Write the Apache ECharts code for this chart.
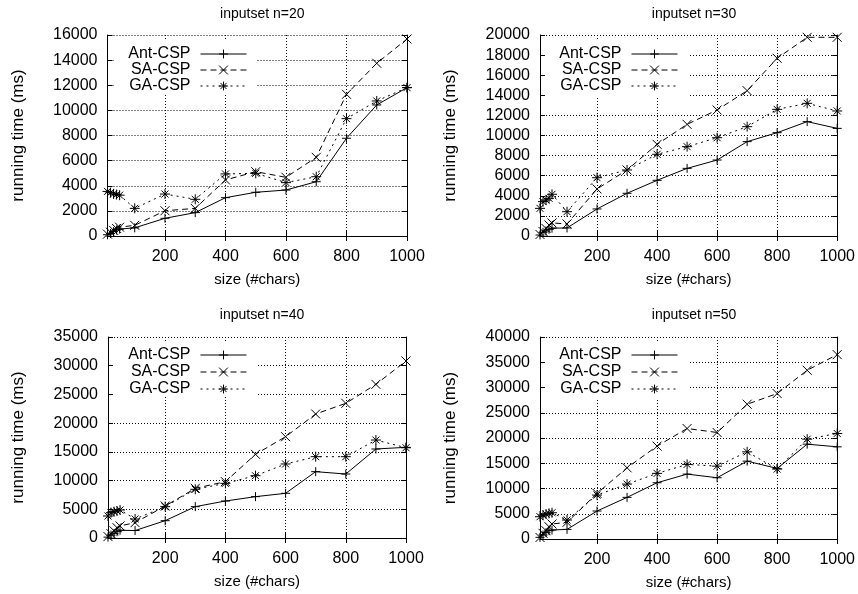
<!DOCTYPE html>
<html>
<head>
<meta charset="utf-8">
<script src="https://cdn.jsdelivr.net/npm/echarts@6/dist/echarts.min.js"></script>
<style>
html,body{margin:0;padding:0;background:#fff;}
#chart{width:858px;height:594px;}
</style>
</head>
<body>
<div id="chart"></div>
<script>
// ---- data ----
const xValues = [10, 20, 30, 40, 50, 100, 200, 300, 400, 500, 600, 700, 800, 900, 1000];
const xTicks = [200, 400, 600, 800, 1000];
const seriesNames = ['Ant-CSP', 'SA-CSP', 'GA-CSP'];
const panelTitles = ['inputset n=20', 'inputset n=30', 'inputset n=40', 'inputset n=50'];
const yMaxes = [16000, 20000, 35000, 40000];
const yIntervals = [2000, 2000, 5000, 5000];

const ant20 = [100, 200, 350, 480, 550, 650, 1410, 1860, 3050, 3480, 3660, 4320, 7780, 10430, 11810];
const sa20  = [150, 300, 450, 600, 700, 850, 2010, 2200, 4460, 5120, 4670, 6260, 11280, 13750, 15680];
const ga20  = [3550, 3450, 3350, 3300, 3250, 2200, 3340, 2920, 4940, 4990, 4250, 4720, 9340, 10750, 11810];

const ant30 = [100, 370, 500, 670, 780, 800, 2690, 4250, 5540, 6730, 7560, 9390, 10280, 11380, 10710];
const sa30  = [150, 450, 750, 1100, 1300, 1200, 4680, 6570, 9120, 11110, 12540, 14460, 17680, 19770, 19770];
const ga30  = [2750, 3420, 3580, 3750, 4150, 2420, 5800, 6570, 8130, 8890, 9780, 10880, 12600, 13200, 12440];

const ant40 = [150, 500, 800, 1100, 1350, 1300, 3020, 5460, 6440, 7200, 7780, 11550, 11140, 15500, 15790];
const sa40  = [250, 750, 1250, 1800, 2100, 2670, 5570, 8650, 9810, 14570, 17640, 21590, 23450, 26760, 30820];
const ga40  = [3830, 4410, 4580, 4700, 4880, 3310, 5460, 8480, 9520, 10850, 12890, 14160, 14160, 17060, 15720];

const ant50 = [330, 790, 1250, 1640, 1780, 1900, 5540, 8240, 11140, 12850, 12130, 15420, 13970, 18780, 18250];
const sa50  = [300, 1130, 1640, 2430, 2970, 3300, 9030, 14100, 18390, 21880, 21090, 26690, 28800, 33410, 36510];
const ga50  = [4410, 4740, 4940, 5080, 5200, 3760, 8700, 10870, 12990, 14770, 14430, 17260, 13840, 19770, 20900];

const panelData = [
  [ant20, sa20, ga20],
  [ant30, sa30, ga30],
  [ant40, sa40, ga40],
  [ant50, sa50, ga50]
];

// ---- layout / style ----
const FONT = "'Liberation Sans', Arial, Helvetica, sans-serif";
const FS = 16;
const grids = [
  {left: 107.5, top: 35, width: 299.5, height: 201},
  {left: 540, top: 35, width: 298, height: 201},
  {left: 108, top: 337, width: 298, height: 201},
  {left: 540, top: 337, width: 298, height: 202}
];
const legendRight = [611, 180, 611, 180];
const legendTops = [[46, 62, 78], [46, 62, 78], [347, 364, 381], [347, 364, 381]];
const titleTops = [2, 2, 303, 303];
const boxes = [
  {x: 114, y: 41, width: 143, height: 54},
  {x: 546, y: 41, width: 143, height: 56},
  {x: 114, y: 343, width: 143, height: 54},
  {x: 546, y: 343, width: 143, height: 55}
];

const symbolPaths = [
  'path://M0,5L10,5M5,0L5,10',
  'path://M0,0L10,10M0,10L10,0',
  'path://M0,5L10,5M5,0L5,10M1.5,1.5L8.5,8.5M1.5,8.5L8.5,1.5'
];
const symbolSizes = [9, 9, 10];
const lineTypes = ['solid', [6, 4], [2, 4]];

const black = '#000';
const plain = v => String(v);
const option = {
  animation: false,
  backgroundColor: '#fff',
  textStyle: {fontFamily: FONT, color: black},
  title: [],
  legend: [],
  grid: [],
  xAxis: [],
  yAxis: [],
  series: [],
  graphic: []
};

for (let p = 0; p < 4; p++) {
  const g = grids[p];
  option.grid.push(Object.assign({containLabel: false}, g));
  option.title.push({
    text: panelTitles[p],
    left: g.left + g.width / 2,
    top: titleTops[p],
    textAlign: 'center',
    textStyle: {fontFamily: FONT, fontSize: 14, fontWeight: 'normal', color: black}
  });
  option.xAxis.push({
    gridIndex: p, type: 'value', min: 10, max: 1000, position: 'bottom',
    name: 'size (#chars)', nameLocation: 'middle', nameGap: 36,
    nameTextStyle: {fontFamily: FONT, fontSize: 15, color: black},
    axisLine: {show: true, lineStyle: {color: black, width: 1}},
    axisTick: {show: true, inside: true, length: 5, customValues: xTicks, lineStyle: {color: black}},
    axisLabel: {show: true, customValues: xTicks, margin: 13, formatter: plain, fontFamily: FONT, fontSize: FS, color: black},
    splitLine: {show: true, lineStyle: {color: black, width: 1, type: [1, 2]}}
  });
  option.xAxis.push({
    gridIndex: p, type: 'value', min: 10, max: 1000, position: 'top',
    axisLine: {show: true, lineStyle: {color: black, width: 1}},
    axisTick: {show: true, inside: true, length: 5, customValues: xTicks, lineStyle: {color: black}},
    axisLabel: {show: false},
    splitLine: {show: false}
  });
  option.yAxis.push({
    gridIndex: p, type: 'value', min: 0, max: yMaxes[p], interval: yIntervals[p], position: 'left',
    name: 'running time (ms)', nameLocation: 'middle', nameGap: 81,
    nameTextStyle: {fontFamily: FONT, fontSize: 17, color: black},
    axisLine: {show: true, lineStyle: {color: black, width: 1}},
    axisTick: {show: true, inside: true, length: 5, lineStyle: {color: black}},
    axisLabel: {show: true, margin: 10, formatter: plain, fontFamily: FONT, fontSize: FS, color: black},
    splitLine: {show: true, lineStyle: {color: black, width: 1, type: [1, 2]}}
  });
  option.yAxis.push({
    gridIndex: p, type: 'value', min: 0, max: yMaxes[p], interval: yIntervals[p], position: 'right',
    axisLine: {show: true, lineStyle: {color: black, width: 1}},
    axisTick: {show: true, inside: true, length: 5, lineStyle: {color: black}},
    axisLabel: {show: false},
    splitLine: {show: false}
  });
  for (let s = 0; s < 3; s++) {
    const vals = panelData[p][s];
    option.series.push({
      type: 'line',
      name: seriesNames[s],
      xAxisIndex: p * 2,
      yAxisIndex: p * 2,
      data: xValues.map((x, i) => [x, vals[i]]),
      symbol: symbolPaths[s],
      symbolSize: symbolSizes[s],
      showAllSymbol: true,
      itemStyle: {color: 'rgba(0,0,0,0)', borderColor: black, borderWidth: 1},
      lineStyle: {color: black, width: 1, type: lineTypes[s]},
      emphasis: {disabled: true},
      silent: true,
      z: 3
    });
    option.legend.push({
      data: [seriesNames[s]],
      right: legendRight[p],
      top: legendTops[p][s],
      orient: 'horizontal',
      align: 'right',
      padding: 0,
      itemWidth: 46,
      itemHeight: 11,
      selectedMode: false,
      itemStyle: {color: 'rgba(0,0,0,0)', borderColor: black, borderWidth: 1},
      lineStyle: {color: black, width: 1, type: lineTypes[s]},
      textStyle: {fontFamily: FONT, fontSize: FS, color: black, padding: [0, 5, 0, 0]},
      z: 10
    });
  }
  option.graphic.push({
    type: 'rect',
    shape: boxes[p],
    style: {fill: '#fff'},
    z: 1
  });
}

const chart = echarts.init(document.getElementById('chart'), null, {renderer: 'canvas'});
chart.setOption(option);
</script>
</body>
</html>
